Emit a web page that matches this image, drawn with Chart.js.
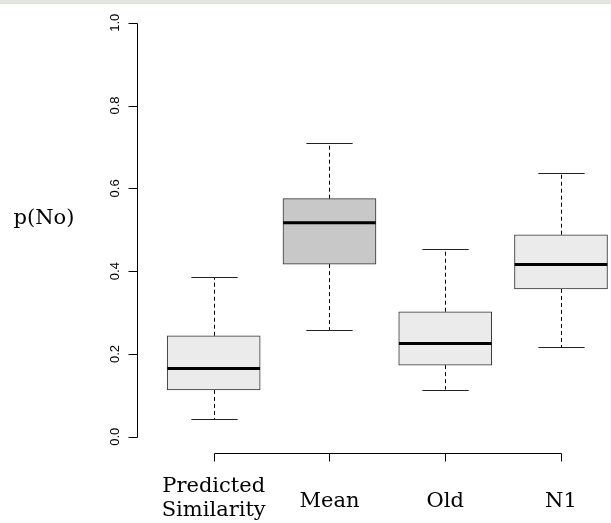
<!DOCTYPE html>
<html>
<head>
<meta charset="utf-8">
<script src="https://cdn.jsdelivr.net/npm/chart.js@4/dist/chart.umd.min.js"></script>
<style>
  html, body { margin: 0; padding: 0; background: #ffffff; overflow: hidden; }
  #wrap { position: relative; width: 611px; height: 523px; }
  #strip { position: absolute; left: 0; top: 0; width: 611px; height: 4px; background: #e3e5e3; }
  canvas { display: block; }
</style>
</head>
<body>
<div id="wrap">
  <canvas id="c" width="611" height="523"></canvas>
  <div id="strip"></div>
</div>
<script>
// ---- data ----
const categories  = [["Predicted", "Similarity"], ["Mean"], ["Old"], ["N1"]];
const whiskerLow  = [0.043, 0.258, 0.114, 0.216];
const q1          = [0.113, 0.417, 0.173, 0.357];
const median      = [0.165, 0.517, 0.225, 0.416];
const q3          = [0.244, 0.575, 0.302, 0.488];
const whiskerHigh = [0.385, 0.709, 0.454, 0.637];
const boxFill     = ["#ebebeb", "#c8c8c8", "#ebebeb", "#ebebeb"];
const yTickValues = [0, 0.2, 0.4, 0.6, 0.8, 1.0];
const yTickLabels = ["0.0", "0.2", "0.4", "0.6", "0.8", "1.0"];
const yTitle = "p(No)";

const serif = '"DejaVu Serif", serif';
const sans = '"Liberation Sans", Arial, sans-serif';

const boxplotExtras = {
  id: 'boxplotExtras',
  beforeDatasetsDraw(chart) {
    const ctx = chart.ctx;
    const xs = chart.scales.x, ys = chart.scales.y;
    const boxW = 0.8 * (xs.getPixelForValue(2) - xs.getPixelForValue(1));
    ctx.save();
    ctx.lineWidth = 1;
    categories.forEach((c, i) => {
      const x = Math.round(xs.getPixelForValue(i + 1)) + 0.5;
      ctx.strokeStyle = '#000';
      ctx.setLineDash([4, 3]);
      ctx.beginPath();
      ctx.moveTo(x, ys.getPixelForValue(q3[i]));
      ctx.lineTo(x, ys.getPixelForValue(whiskerHigh[i]));
      ctx.moveTo(x, ys.getPixelForValue(q1[i]));
      ctx.lineTo(x, ys.getPixelForValue(whiskerLow[i]));
      ctx.stroke();
      ctx.setLineDash([]);
      ctx.strokeStyle = '#222';
      ctx.beginPath();
      const hi = Math.round(ys.getPixelForValue(whiskerHigh[i])) + 0.5;
      const lo = Math.round(ys.getPixelForValue(whiskerLow[i])) + 0.5;
      ctx.moveTo(x - boxW / 4, hi); ctx.lineTo(x + boxW / 4, hi);
      ctx.moveTo(x - boxW / 4, lo); ctx.lineTo(x + boxW / 4, lo);
      ctx.stroke();
    });
    ctx.restore();
  },
  afterDatasetsDraw(chart) {
    const ctx = chart.ctx;
    const xs = chart.scales.x, ys = chart.scales.y;
    const area = chart.chartArea;
    const boxW = 0.8 * (xs.getPixelForValue(2) - xs.getPixelForValue(1));
    ctx.save();
    // medians
    ctx.strokeStyle = '#000';
    ctx.lineWidth = 3;
    categories.forEach((c, i) => {
      const x = xs.getPixelForValue(i + 1);
      const y = ys.getPixelForValue(median[i]);
      ctx.beginPath();
      ctx.moveTo(x - boxW / 2, y); ctx.lineTo(x + boxW / 2, y);
      ctx.stroke();
    });
    // y axis
    ctx.lineWidth = 1;
    ctx.strokeStyle = '#000';
    const ax = Math.round(area.left) + 0.5;
    ctx.beginPath();
    ctx.moveTo(ax, Math.round(ys.getPixelForValue(yTickValues[0])) + 0.5);
    ctx.lineTo(ax, Math.round(ys.getPixelForValue(yTickValues[yTickValues.length - 1])) + 0.5);
    yTickValues.forEach(v => {
      const y = Math.round(ys.getPixelForValue(v)) + 0.5;
      ctx.moveTo(ax - 9, y); ctx.lineTo(ax, y);
    });
    ctx.stroke();
    ctx.fillStyle = '#000';
    ctx.font = '13px ' + sans;
    ctx.textAlign = 'center';
    ctx.textBaseline = 'middle';
    yTickValues.forEach((v, i) => {
      const y = ys.getPixelForValue(v);
      ctx.save();
      ctx.translate(ax - 22, y);
      ctx.rotate(-Math.PI / 2);
      ctx.fillText(yTickLabels[i], 0, 0);
      ctx.restore();
    });
    // x axis
    const by = Math.round(area.bottom) + 0.5;
    ctx.beginPath();
    ctx.moveTo(Math.round(xs.getPixelForValue(1)) + 0.5, by);
    ctx.lineTo(Math.round(xs.getPixelForValue(categories.length)) + 0.5, by);
    categories.forEach((c, i) => {
      const x = Math.round(xs.getPixelForValue(i + 1)) + 0.5;
      ctx.moveTo(x, by); ctx.lineTo(x, by + 8);
    });
    ctx.stroke();
    ctx.font = '21px ' + serif;
    ctx.textBaseline = 'alphabetic';
    categories.forEach((c, i) => {
      const x = xs.getPixelForValue(i + 1);
      if (c.length === 1) {
        ctx.fillText(c[0], x, by + 53.5);
      } else {
        ctx.fillText(c[0], x, by + 38.5);
        ctx.fillText(c[1], x, by + 62);
      }
    });
    // y title
    ctx.fillText(yTitle, 44, 223.5);
    ctx.restore();
  }
};

new Chart(document.getElementById('c'), {
  type: 'bar',
  data: {
    datasets: [{
      data: categories.map((c, i) => ({ x: i + 1, y: [q1[i], q3[i]] })),
      backgroundColor: boxFill,
      borderColor: '#333333',
      borderWidth: 1,
      borderSkipped: false,
      barThickness: 93
    }]
  },
  options: {
    responsive: false,
    animation: false,
    events: [],
    layout: { padding: { left: 137.3, top: 6.2, right: 0, bottom: 69.7 } },
    plugins: { legend: { display: false }, tooltip: { enabled: false } },
    scales: {
      x: { type: 'linear', min: 0.34, max: 4.432, offset: false, display: false },
      y: { type: 'linear', min: -0.04, max: 1.04, display: false }
    }
  },
  plugins: [boxplotExtras]
});
</script>
</body>
</html>
